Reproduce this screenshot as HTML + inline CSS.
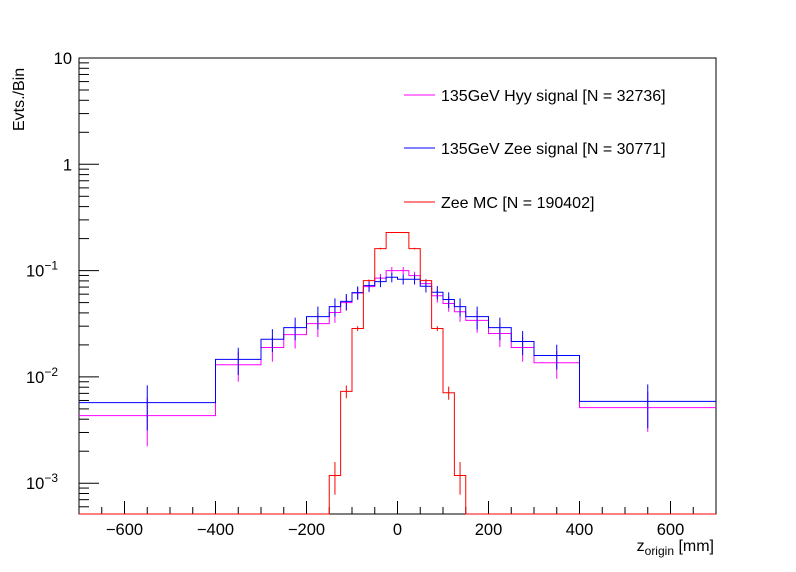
<!DOCTYPE html>
<html><head><meta charset="utf-8"><style>
body{margin:0;background:#fff}
svg{display:block;font-family:"Liberation Sans",Arial,sans-serif}
</style></head><body>
<svg id="chart" width="796" height="572" viewBox="0 0 796 572" xmlns="http://www.w3.org/2000/svg">
<rect x="0" y="0" width="796" height="572" fill="#fff"/>
<rect x="79" y="58" width="637" height="456" fill="none" stroke="#000" stroke-width="1"/>
<g id="axes"></g>
<g id="series"></g>
<text transform="translate(24,131) rotate(-90)" font-size="16">Evts./Bin</text>
<text x="714" y="551" font-size="16" text-anchor="end">z<tspan font-size="12" dy="4">origin</tspan><tspan dy="-4"> [mm]</tspan></text>
<g font-size="16">
<g><line x1="404" y1="95" x2="435" y2="95" stroke="#f0f"/><text x="441" y="101">135GeV Hyy signal [N = 32736]</text></g>
<g><line x1="404" y1="148" x2="435" y2="148" stroke="#00f"/><text x="441" y="154">135GeV Zee signal [N = 30771]</text></g>
<g><line x1="404" y1="202" x2="435" y2="202" stroke="#f00"/><text x="441" y="208">Zee MC [N = 190402]</text></g>
</g>
</svg>
<script>
const binEdges = [-700,-400,-300,-250,-200,-150,-125,-100,-75,-50,-25,0,25,50,75,100,125,150,200,250,300,400,700];
const hyyValues = [0.00432,0.0130,0.0189,0.0250,0.0317,0.0403,0.0500,0.0615,0.0706,0.0850,0.100,0.100,0.0897,0.0755,0.0580,0.0490,0.0410,0.0340,0.0256,0.0189,0.0136,0.00514];
const hyyErrors = [0.0021,0.0040,0.0050,0.0065,0.008,0.008,0.008,0.008,0.008,0.008,0.008,0.008,0.008,0.008,0.008,0.008,0.008,0.008,0.0065,0.0050,0.0040,0.0021];
const zeeSigValues = [0.00573,0.0146,0.0226,0.0291,0.0369,0.0458,0.0513,0.0621,0.0723,0.0788,0.0865,0.0830,0.0830,0.0712,0.0625,0.0534,0.0458,0.0369,0.0291,0.0215,0.0159,0.00589];
const zeeSigErrors = [0.0026,0.0042,0.0055,0.0070,0.009,0.009,0.009,0.009,0.009,0.009,0.009,0.009,0.009,0.009,0.009,0.009,0.009,0.009,0.0070,0.0055,0.0042,0.0026];
const zeeMcValues = [0,0,0,0,0,0.00118,0.0073,0.0285,0.0805,0.161,0.228,0.228,0.161,0.0805,0.0285,0.0071,0.00118,0,0,0,0,0];
const zeeMcErrors = [0,0,0,0,0,0.0004,0.001,0.0015,0.002,0.003,0.003,0.003,0.003,0.002,0.0015,0.001,0.0004,0,0,0,0,0];
const xTicks = [-600,-400,-200,0,200,400,600];
const xTickLabels = ["\u2212600","\u2212400","\u2212200","0","200","400","600"];
const yDecades = [-3,-2,-1,0,1];

const X0=79,X1=716,Y0=58,Y1=514,XMIN=-700,XMAX=700;
const YMAXL=1, PXDEC=106.3, YMINV=Math.pow(10, YMAXL-(Y1-Y0)/PXDEC);
function xs(v){return X0+(v-XMIN)/(XMAX-XMIN)*(X1-X0);}
function ys(v){if(v<=YMINV)return Y1;return Y0+(YMAXL-Math.log10(v))*PXDEC;}
const NS="http://www.w3.org/2000/svg";
function mk(tag,attrs,parent){const e=document.createElementNS(NS,tag);for(const k in attrs)e.setAttribute(k,attrs[k]);parent.appendChild(e);return e;}

const sg=document.getElementById('series');
function drawHist(vals,errs,color,name){
  const g=mk('g',{},sg);
  
  
  let d='M'+xs(binEdges[0])+','+ys(vals[0]);
  for(let i=0;i<vals.length;i++){
    d+=' H'+xs(binEdges[i+1]);
    if(i+1<vals.length) d+=' V'+ys(vals[i+1]);
  }
  const p=mk('path',{d:d,fill:'none',stroke:color,'stroke-width':1},g);
  
  
  for(let i=0;i<vals.length;i++){
    if(vals[i]<=0)continue;
    const c=(binEdges[i]+binEdges[i+1])/2, cx=xs(c);
    const lo=Math.max(vals[i]-errs[i],1e-9), hi=vals[i]+errs[i];
    const e=mk('line',{x1:cx,x2:cx,y1:ys(hi),y2:Math.min(ys(lo),Y1),stroke:color,'stroke-width':1},g);
    
    
  }
}
drawHist(hyyValues,hyyErrors,'#f0f','hyy-signal-series');
drawHist(zeeSigValues,zeeSigErrors,'#00f','zee-signal-series');
drawHist(zeeMcValues,zeeMcErrors,'#f00','zee-mc-series');

const ag=document.getElementById('axes');
for(let v=-700;v<=700;v+=50){
  const major=(v%200===0);
  const t=mk('line',{x1:xs(v),x2:xs(v),y1:Y1,y2:Y1-(major?13:7),stroke:'#000'},ag);
  
  
}
xTicks.forEach((v,i)=>{
  const t=mk('text',{x:xs(v),y:535,'font-size':16.5,'text-anchor':'middle'},ag);
  t.textContent=xTickLabels[i];
  
  
});
for(const d of yDecades){
  const base=Math.pow(10,d);
  const yM=ys(base);
  const t=mk('line',{x1:X0,x2:X0+20,y1:yM,y2:yM,stroke:'#000'},ag);
  
  
  const lab=mk('text',{x:72,y:yM+6,'font-size':16.5,'text-anchor':'end'},ag);
  
  
  if(d===1) lab.textContent='10';
  else if(d===0) lab.textContent='1';
  else { lab.setAttribute('x',58); lab.textContent='10';
    const s=mk('tspan',{'font-size':12,dy:-7},lab); s.textContent='\u2212'+(-d); }
  if(d<1){
    for(let m=2;m<=9;m++){
      const v=base*m, y=ys(v);
      if(y<=Y0||y>=Y1) continue;
      const mt=mk('line',{x1:X0,x2:X0+10,y1:y,y2:y,stroke:'#000'},ag);
      
      
    }
  }
}
for(let m=5;m<=9;m++){
  const y=ys(0.001*m/10);
  if(y<Y1){const mt=mk('line',{x1:X0,x2:X0+10,y1:y,y2:y,stroke:'#000'},ag);
  
  }
}
</script>
</body></html>
